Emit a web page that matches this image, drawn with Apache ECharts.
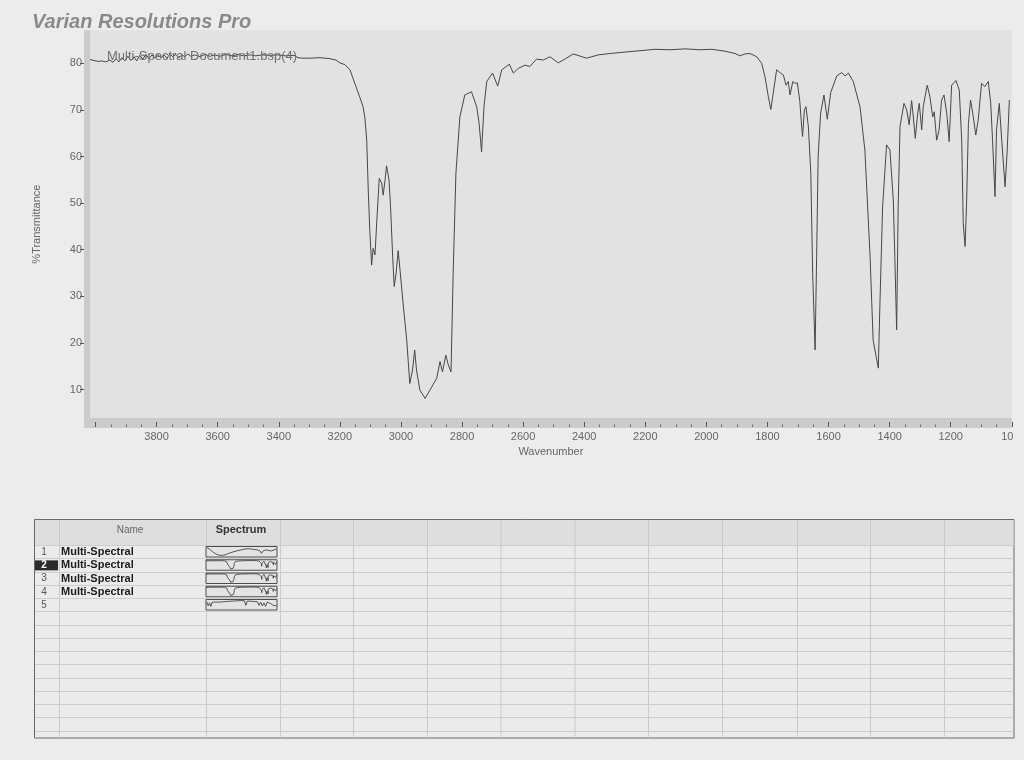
<!DOCTYPE html>
<html><head><meta charset="utf-8">
<script src="https://cdn.jsdelivr.net/npm/echarts@6/dist/echarts.min.js"></script>
<style>html,body{margin:0;padding:0;background:#ececec;}#c{width:1024px;height:760px;}</style>
</head><body><div id="c"></div>
<script>
// ---- main spectrum (wavenumber cm-1, %T) ----
const wavenumber = [4018,4005,3992,3979,3966,3953,3943,3933,3923,3914,3904,3894,3884,3874,3865,3855,3845,3835,3825,3815,3806,3796,3786,3776,3766,3756,3747,3737,3727,3717,3707,3698,3688,3675,3658,3642,3625,3609,3593,3573,3553,3534,3514,3494,3475,3455,3429,3403,3377,3350,3337,3324,3298,3265,3233,3213,3200,
3183,3167,3151,3134,3124,3118,3112,3107,3102,3096,3091,3085,3080,3071,3063,3058,3052,3047,3039,3034,3027,3022,3016,3009,3003,2993,2981,2971,2962,2955,2949,2938,2921,2905,2883,2872,2864,2853,2845,2836,2829,2820,2807,2791,2769,2752,2744,2736,2728,2719,2700,2683,2670,2645,2632,2616,2594,2578,2556,2534,2512,2485,2458,2436,2392,2354,
2316,2267,2217,2168,2119,2070,2021,1982,1939,1906,1890,1874,1857,
1835,1819,1808,1797,1789,1781,1770,1757,1748,1739,1732,1726,1717,1710,1702,1694,1688,1685,1679,1674,1666,1658,1652,1644,1639,1634,1626,1615,1604,1593,1573,1557,1546,1535,1519,1497,1481,1464,1454,1445,1437,1432,1423,1410,1399,1388,1383,1377,1372,1366,1353,1344,1336,1328,1323,1316,1308,1303,1295,1290,1277,1268,1259,1254,1246,1238,1230,1222,1213,1205,1197,1183,1172,1164,1159,1153,1148,1142,1135,1126,1118,1110,1099,1088,1077,1069,1063,1055,1050,1041,1033,1022,1015,1008];
const transmittance = [80.8,80.6,80.4,80.5,80.3,80.7,80.2,81.0,80.3,81.2,80.5,81.5,80.6,81.4,80.5,81.7,80.9,81.9,81.0,81.8,81.1,81.9,81.2,81.8,81.1,82.0,81.4,81.9,81.2,81.8,81.4,82.0,81.5,81.8,81.4,81.9,81.5,81.8,81.5,81.9,81.6,81.9,81.6,81.8,81.6,81.8,81.7,81.8,81.6,81.7,81.2,81.1,81.1,81.2,81.0,80.7,80.1,
79.7,78.6,75.7,72.6,70.7,68.3,63.5,52.8,44.2,36.7,40.3,38.9,44.9,55.3,54.3,51.7,55.0,58.0,55.0,49.2,38.5,32.1,34.9,39.8,35.7,28.5,20.6,11.3,14.2,18.5,14.2,9.9,8.1,9.9,12.4,16.0,13.8,17.4,15.3,13.8,34.9,56.4,68.5,73.2,73.9,70.7,67.1,61.0,70.7,76.1,77.9,75.1,78.6,79.8,77.9,78.9,79.6,79.3,80.9,80.7,81.4,80.1,81.1,82.0,81.1,81.8,
82.1,82.4,82.7,83.0,82.9,83.1,82.9,83.0,82.6,82.1,81.6,82.0,82.1,
81.4,80.0,77.1,72.8,70.1,73.6,78.6,77.9,77.5,75.3,76.1,73.2,76.1,75.7,75.8,71.8,66.4,64.3,70.0,70.7,66.4,56.4,34.9,18.5,38.5,60.0,69.3,73.2,68.0,73.7,77.3,78.0,77.3,77.9,76.1,70.7,61.4,38.5,20.6,17.4,14.6,27.8,49.2,62.5,61.4,50.7,38.5,22.8,49.2,66.4,71.4,70.0,66.8,72.0,68.9,63.9,69.3,71.4,65.7,70.7,75.3,72.8,68.5,69.6,63.5,65.7,72.1,73.2,69.3,63.2,75.3,76.3,74.3,63.5,45.7,40.7,50.0,67.1,72.1,68.5,64.6,67.8,75.7,75.0,76.1,71.4,63.5,51.4,65.7,71.4,63.5,53.5,61.4,72.1];

// ---- thumbnail spectra in the table (rows 1 and 5; rows 2-4 show the main spectrum) ----
const thumb1Wavenumber = [3976,3867,3746,3595,3475,3354,3203,3052,2871,2690,2509,2358,2207,2026,1845,1724,1664,1604,1483,1362,1241,1121,1030];
const thumb1Values = [94,76,52,27,15,12,18,33,48,61,70,79,82,76,70,61,33,55,70,64,58,70,76];
const thumb5Wavenumber = [3991,3921,3867,3810,3752,3671,3393,3113,2841,2569,2388,2322,2268,2002,1833,1764,1694,1625,1555,1486,1416,1278,1139,1030];
const thumb5Values = [81,37,70,33,78,85,78,85,89,93,93,44,89,85,81,44,78,37,70,33,78,63,41,41];

// ---- ticks / labels ----
const yTickValues = [10,20,30,40,50,60,70,80];
const xLabelValues = [1000,1200,1400,1600,1800,2000,2200,2400,2600,2800,3000,3200,3400,3600,3800];
const xMajorTicks = [1000,1200,1400,1600,1800,2000,2200,2400,2600,2800,3000,3200,3400,3600,3800,4000];

// ---- table content ----
const tableHeader = ['Name', 'Spectrum'];
const rowNumbers = ['1','2','3','4','5'];
const rowNames = ['Multi-Spectral','Multi-Spectral','Multi-Spectral','Multi-Spectral',''];
const selectedRow = 1;

const xMinorTicks = [];
for (let v = 1000; v <= 4000; v += 50) if (v % 200 !== 0) xMinorTicks.push(v);

const FONT = 'Liberation Sans, Arial, sans-serif';
const pairs = (xs, ys) => xs.map((x, i) => [x, ys[i]]);
const mainData = pairs(wavenumber, transmittance);
const thumbData = [pairs(thumb1Wavenumber, thumb1Values), mainData, mainData, mainData, pairs(thumb5Wavenumber, thumb5Values)];

// table geometry
const T = {x0: 34, x1: 1013.5, y0: 519, y1: 737.5, headH: 26, rowH: 13.25};
const colLines = [59, 206, 280, 353, 427, 500.5, 574.5, 648, 722, 797, 870, 944];

const grids = [{left: 90, right: 12.2, top: 30.2, bottom: 342, show: true, backgroundColor: '#e2e2e2', borderWidth: 0}];
const xAxes = [
  {type: 'value', gridIndex: 0, position: 'bottom', inverse: true, min: 1000, max: 4018, offset: 9,
   axisLine: {show: false}, splitLine: {show: false},
   axisTick: {inside: true, length: 5, customValues: xMajorTicks, lineStyle: {color: '#555', width: 1}},
   axisLabel: {customValues: xLabelValues, margin: 4, fontSize: 11, color: '#666', fontFamily: FONT,
     formatter: v => v === 1000 ? '{c|10}' : String(v),
     rich: {c: {fontSize: 11, color: '#666', fontFamily: FONT, padding: [0, 9, 0, 0]}}},
   name: 'Wavenumber', nameLocation: 'middle', nameGap: 15,
   nameTextStyle: {fontSize: 11, color: '#666', fontFamily: FONT}},
  {type: 'value', gridIndex: 0, position: 'bottom', inverse: true, min: 1000, max: 4018, offset: 9,
   axisLine: {show: false}, splitLine: {show: false}, axisLabel: {show: false},
   axisTick: {inside: true, length: 2.5, customValues: xMinorTicks, lineStyle: {color: '#666', width: 1}}}
];
const yAxes = [
  {type: 'value', gridIndex: 0, min: 3.9, max: 87.1, offset: 6,
   axisLine: {show: false}, splitLine: {show: false},
   axisTick: {length: 4, customValues: yTickValues, lineStyle: {color: '#555'}},
   axisLabel: {customValues: yTickValues, margin: 2, fontSize: 11, color: '#666', fontFamily: FONT},
   name: '%Transmittance', nameLocation: 'middle', nameGap: 42,
   nameTextStyle: {fontSize: 11, color: '#666', fontFamily: FONT}}
];
const series = [{type: 'line', xAxisIndex: 0, yAxisIndex: 0, data: mainData, showSymbol: false,
  lineStyle: {color: '#474747', width: 1}, z: 3}];

thumbData.forEach((d, k) => {
  const top = T.y0 + T.headH + k * T.rowH + 1.5;
  grids.push({left: 206, width: 71, top: top, height: 10.5, show: true, backgroundColor: '#e4e4e4', borderColor: '#4d4d4d', borderWidth: 1});
  xAxes.push({type: 'value', gridIndex: k + 1, inverse: true, min: 1000, max: 4018, show: false});
  yAxes.push({type: 'value', gridIndex: k + 1, min: (k === 0 || k === 4) ? -5 : 0, max: (k === 0 || k === 4) ? 105 : 90, show: false});
  series.push({type: 'line', xAxisIndex: k + 2, yAxisIndex: k + 1, data: d, showSymbol: false,
    lineStyle: {color: '#444', width: 0.9}, z: 3});
});

// graphic: axis bands + table
const g = [];
g.push({type: 'rect', shape: {x: 84, y: 30.2, width: 6, height: 397.8}, style: {fill: '#cbcbcb'}, z: -5});
g.push({type: 'rect', shape: {x: 84, y: 418, width: 927.8, height: 10}, style: {fill: '#cbcbcb'}, z: -5});
g.push({type: 'rect', shape: {x: T.x0 + 0.5, y: T.y0 + 0.5, width: T.x1 - T.x0, height: T.y1 - T.y0}, style: {fill: '#ebebeb', stroke: '#6a6a6a', lineWidth: 1}, z: -6});
g.push({type: 'rect', shape: {x: T.x0 + 1, y: T.y0 + 1, width: T.x1 - T.x0 - 1, height: T.headH - 1}, style: {fill: '#dedede'}, z: -5});
for (let k = 0; k * T.rowH + T.headH < T.y1 - T.y0 - 4; k++) {
  const y = Math.round(T.y0 + T.headH + k * T.rowH) + 0.5;
  g.push({type: 'line', shape: {x1: T.x0 + 1, y1: y, x2: T.x1, y2: y}, style: {stroke: '#cdcdcd', lineWidth: 1}, z: -4});
}
colLines.forEach(x => g.push({type: 'line', shape: {x1: x + 0.5, y1: T.y0 + 1, x2: x + 0.5, y2: T.y1}, style: {stroke: '#c9c9c9', lineWidth: 1}, z: -4}));
g.push({type: 'text', x: 130, y: 530.5, style: {text: tableHeader[0], font: '10px ' + FONT, fill: '#666', textAlign: 'center', textVerticalAlign: 'middle'}});
g.push({type: 'text', x: 241, y: 530, style: {text: tableHeader[1], font: 'bold 11px ' + FONT, fill: '#333', textAlign: 'center', textVerticalAlign: 'middle'}});
rowNumbers.forEach((n, k) => {
  const cy = T.y0 + T.headH + k * T.rowH + T.rowH / 2 + 0.5;
  if (k === selectedRow) {
    g.push({type: 'rect', shape: {x: 35, y: cy - 5, width: 23, height: 10}, style: {fill: '#2b2b2b'}, z: -3});
  }
  g.push({type: 'text', x: 44, y: cy, style: {text: n, font: (k === selectedRow ? 'bold ' : '') + '10px ' + FONT, fill: k === selectedRow ? '#fff' : '#555', textAlign: 'center', textVerticalAlign: 'middle'}});
  if (rowNames[k]) g.push({type: 'text', x: 61, y: cy, style: {text: rowNames[k], font: 'bold 11px ' + FONT, fill: '#1c1c1c', textAlign: 'left', textVerticalAlign: 'middle'}});
});

const chart = echarts.init(document.getElementById('c'), null, {renderer: 'canvas'});
chart.setOption({
  animation: false,
  backgroundColor: '#ececec',
  title: [
    {text: 'Varian Resolutions Pro', left: 27, top: 7,
     textStyle: {fontSize: 20, fontWeight: 'bold', fontStyle: 'italic', color: '#8a8a8a', fontFamily: FONT}},
    {text: 'Multi-Spectral Document1.bsp(4)', left: 102, top: 45,
     textStyle: {fontSize: 13, fontWeight: 'normal', color: '#707070', fontFamily: FONT}}
  ],
  grid: grids, xAxis: xAxes, yAxis: yAxes, series: series, graphic: g
});
</script></body></html>
